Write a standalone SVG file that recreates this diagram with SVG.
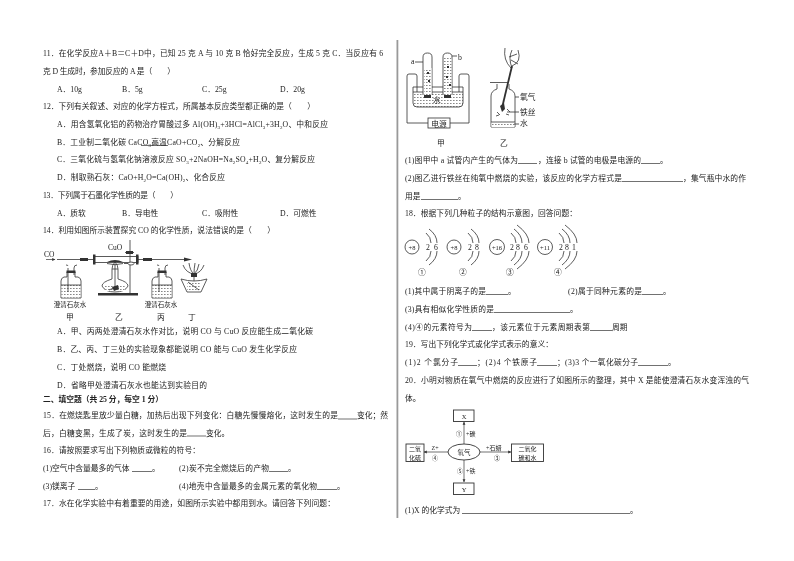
<svg xmlns="http://www.w3.org/2000/svg" xmlns:xlink="http://www.w3.org/1999/xlink" width="794" height="561" viewBox="0 0 794 561">
<style>
text{font-family:"Liberation Serif","Noto Sans CJK SC",serif;font-size:7.75px;fill:#222}
.b{font-weight:700}
.s{font-size:5px}
.m{font-size:6.5px}
.e{font-size:6px}
.c{text-anchor:middle}
.u,.l{stroke:#333;stroke-width:.7;fill:none}
.w{fill:#fff;stroke:#333;stroke-width:.8}
.k{fill:none;stroke:#333;stroke-width:.8}
.d{fill:#333}
.q{fill:url(#liq)}
.box{fill:#fff;stroke:#333;stroke-width:.9}
</style>
<defs>
<filter id="soft" x="0" y="0" width="1" height="1"><feGaussianBlur stdDeviation="0.28"/></filter>
<pattern id="liq" width="3" height="3" patternUnits="userSpaceOnUse"><rect width="3" height="3" fill="#fff"/><path d="M0 1.500H1.600" stroke="#555" stroke-width=".7"/></pattern>
<marker id="ah" markerWidth="5" markerHeight="5" refX="4" refY="2.500" orient="auto"><path d="M0 .5L4.500 2.500L0 4.500z" fill="#333"/></marker>
<path id="s1" class="k" d="M14-14Q19-10 19-4M19 4Q19 10 14 14"/>
<path id="s2" class="k" d="M17-18Q25-12 25-4M25 4Q25 12 17 18"/>
<path id="s3" class="k" d="M20-22Q32-13 32-4M32 4Q32 13 20 22"/>
<g id="bottle"><path class="w" d="M6 0V5H3Q0 6 0 9V26H20V9Q20 6 17 5H14V0z"/><rect class="q" x=".5" y="13" width="19" height="12.500"/><path class="k" d="M0 13H20M7-4V20M13-4V3M7-6Q7-7 5-7M13-4Q13-7 16-7"/><rect class="d" x="5.500" y="-1.500" width="9" height="2.500"/></g>
</defs>
<rect width="794" height="561" fill="#fff"/>
<g id="page" filter="url(#soft)">
<rect id="divider" x="396.500" y="40" width="1.800" height="478" fill="#999"/>

<g id="question-11-13">
<text x="43" y="55.500" textLength="340">11．在化学反应A＋B＝C＋D中，已知 25 克 A 与 10 克 B 恰好完全反应，生成 5 克 C．当反应有 6</text>
<text x="43" y="73.500" textLength="132">克 D 生成时，参加反应的 A 是（　　）</text>
<text x="57" y="91.500">A．10g</text><text x="122" y="91.500">B．5g</text><text x="202" y="91.500">C．25g</text><text x="280" y="91.500">D．20g</text>
<text x="43" y="109" textLength="272">12．下列有关叙述、对应的化学方程式，所属基本反应类型都正确的是（　　）</text>
<text x="57" y="127" textLength="271">A．用含氢氧化铝的药物治疗胃酸过多 Al(OH)<tspan class="s" dy="1.500">3</tspan><tspan dy="-1.500">+3HCl=AlCl</tspan><tspan class="s" dy="1.500">3</tspan><tspan dy="-1.500">+3H</tspan><tspan class="s" dy="1.500">2</tspan><tspan dy="-1.500">O、中和反应</tspan></text>
<text x="57" y="145" textLength="183">B．工业制二氧化碳 CaCO<tspan class="s" dy="1.500">3</tspan><tspan dy="-1.500">高温CaO+CO</tspan><tspan class="s" dy="1.500">2</tspan><tspan dy="-1.500">、分解反应</tspan></text>
<path class="u" d="M141 145.500H168"/>
<text x="57" y="162" textLength="258">C．三氧化硫与氢氧化钠溶液反应 SO<tspan class="s" dy="1.500">3</tspan><tspan dy="-1.500">+2NaOH=Na</tspan><tspan class="s" dy="1.500">2</tspan><tspan dy="-1.500">SO</tspan><tspan class="s" dy="1.500">4</tspan><tspan dy="-1.500">+H</tspan><tspan class="s" dy="1.500">2</tspan><tspan dy="-1.500">O、复分解反应</tspan></text>
<text x="57" y="180" textLength="168">D．制取熟石灰：CaO+H<tspan class="s" dy="1.500">2</tspan><tspan dy="-1.500">O=Ca(OH)</tspan><tspan class="s" dy="1.500">2</tspan><tspan dy="-1.500">、化合反应</tspan></text>
<text x="43" y="198" textLength="135">13．下列属于石墨化学性质的是（　　）</text>
<text x="57" y="215.500">A．质软</text><text x="122" y="215.500">B．导电性</text><text x="202" y="215.500">C．吸附性</text><text x="280" y="215.500">D．可燃性</text>
</g>

<g id="question-14">
<text x="43" y="233" textLength="232">14．利用如图所示装置探究 CO 的化学性质，说法错误的是（　　）</text>
<text x="44" y="257" style="font-size:7.500px">CO</text>
<text x="108" y="250" style="font-size:7.500px">CuO</text>
<path class="l" marker-end="url(#ah)" d="M46 259.500H55"/>
<path class="k" d="M57 259.500H93M138 259.500H186"/>
<path class="d" d="M80 258h8v3h-8zM143 258h9v3h-9zM192 259.500l-8-2v4z"/>
<use xlink:href="#bottle" x="61" y="272"/>
<use xlink:href="#bottle" x="152" y="272"/>
<rect class="w" x="94" y="256.500" width="44" height="6"/>
<path class="d" d="M93 254.500h2.500v10h-2.500zM136 254.500h2.500v10h-2.500zM107 262q8-4 16 0z"/>
<path class="k" d="M107 263.500Q115 266 123 263.500"/>
<path class="k" d="M130 240V293M125 252.500h9M124 263.500h10"/>
<path class="d" d="M126 251h7v3h-7z"/>
<ellipse class="w" cx="131" cy="263.500" rx="3" ry="1.500"/>
<rect class="d" x="98" y="293" width="40" height="2.500"/>
<path class="w" d="M112 269h6v10q10 3 10 7q-3 6-13 6q-10 0-13-6q0-4 10-7z"/>
<rect class="q" x="105" y="285" width="20" height="6"/>
<path class="k" d="M115 264V286M115 262q-3 3-3 7M115 262q3 3 3 7M109 290l9-4"/>
<path class="d" d="M112 287l6-2 1 4-5 2z"/>
<path class="w" d="M181 279Q194 283 207 279L201 292H187z"/>
<rect class="q" x="187" y="283" width="14" height="8"/>
<path class="k" d="M194 274V281M194 274q-8-1-11-9M194 274q-4-3-5-11M194 274q0-5 1-11M194 274q4-3 5-10M194 274q7-1 10-9M188 282l11 8"/>
<path class="d" d="M191 273h6v4h-6z"/>
<text class="m c" x="70" y="307">澄清石灰水</text>
<text class="m c" x="161" y="307">澄清石灰水</text>
<text class="c" x="70" y="320">甲</text><text class="c" x="119" y="320">乙</text><text class="c" x="161" y="320">丙</text><text class="c" x="192" y="320">丁</text>
<text x="57" y="334" textLength="256">A．甲、丙两处澄清石灰水作对比，说明 CO 与 CuO 反应能生成二氧化碳</text>
<text x="57" y="352" textLength="240">B．乙、丙、丁三处的实验现象都能说明 CO 能与 CuO 发生化学反应</text>
<text x="57" y="370" textLength="109">C．丁处燃烧，说明 CO 能燃烧</text>
<text x="57" y="388" textLength="150">D．省略甲处澄清石灰水也能达到实验目的</text>
</g>

<g id="section-fill">
<text class="b" x="43" y="402" textLength="120">二、填空题（共 25 分，每空 1 分）</text>
<text x="43" y="418" textLength="295">15．在燃烧匙里放少量白糖，加热后出现下列变化：白糖先慢慢熔化，这时发生的是</text>
<path class="u" d="M338 419H357M187 436H206M132 471.500H152M269 471.500H288M78 489.500H95M317 489.500H337"/>
<text x="357" y="418" textLength="31">变化；然</text>
<text x="43" y="435.500" textLength="144">后，白糖变黑，生成了炭，这时发生的是</text><text x="206" y="435.500">变化。</text>
<text x="43" y="453" textLength="157">16．请按照要求写出下列物质或微粒的符号：</text>
<text x="43" y="471">(1)空气中含量最多的气体</text><text x="152" y="471">。</text>
<text x="179" y="471" textLength="90">(2)炭不完全燃烧后的产物</text><text x="288" y="471">。</text>
<text x="43" y="489">(3)镁离子</text><text x="95" y="489">。</text>
<text x="179" y="489" textLength="138">(4)地壳中含量最多的金属元素的氧化物</text><text x="337" y="489">。</text>
<text x="43" y="506" textLength="292">17．水在化学实验中有着重要的用途，如图所示实验中都用到水。请回答下列问题：</text>
</g>

<g id="apparatus-17">
<path class="k" d="M428 123H407V76Q407 74 409 74H415Q417 74 417 76V96M450 123H469V76Q469 74 467 74H461Q459 74 459 76V96"/>
<path class="q" d="M413 92H463V103Q463 107 459 107H417Q413 107 413 103z"/>
<path class="k" d="M413 87H463V103Q463 107 459 107H417Q413 107 413 103zM413 92H463"/>
<path class="w" d="M423 95V57Q423 53 427.500 53Q432 53 432 57V95M443 95V57Q443 53 447.500 53Q452 53 452 57V95"/>
<rect class="q" x="424" y="68" width="7.500" height="27"/><rect class="q" x="444" y="58" width="7.500" height="37"/>
<path class="k" d="M415 62H423M452 56H457"/>
<rect class="d" x="424" y="95" width="7" height="3"/><rect class="d" x="444" y="95" width="7" height="3"/>
<path class="d" d="M427 72h2v2h-2zM428 80h2v2h-2zM447 66h2v2h-2zM446 76h2v2h-2zM449 84h2v2h-2z"/>
<text x="411" y="64">a</text><text x="458" y="60">b</text><text class="c" x="437" y="103">水</text>
<rect class="w" x="428" y="118" width="22" height="10"/><text class="c" x="439" y="126.500">电源</text>
<text class="c" x="441" y="146">甲</text><text class="c" x="504" y="146">乙</text>
<path class="k" d="M490 82.500H508"/>
<path class="k" d="M497 84V89Q491 91 491 96V127H515V96Q515 91 509 89V84"/>
<rect class="q" x="491.500" y="122" width="23" height="5"/>
<path class="k" d="M491 122H515"/>
<path d="M502 108L512 66" stroke="#333" stroke-width="1.800" fill="none"/>
<path class="k" d="M511 68Q503 60 505 48M512 68Q508 58 512 50M512 66Q522 62 518 50M511 60l7 4M509 57l8-3"/>
<path class="d" d="M500 106l4-3 1 6-3 3z"/>
<path class="k" d="M497 112l3 3M496 116l3-1M507 109l3 3M506 114l3 1M515 97H519M507 112H519M514 124H519"/>
<text x="520" y="100">氧气</text><text x="520" y="115">铁丝</text><text x="520" y="126">水</text>
</g>

<g id="question-17-text">
<text x="405" y="163" textLength="113">(1)图甲中 a 试管内产生的气体为</text><path class="u" d="M518 163.500H537M641 163.500H660M622 181.500H683M421 199.500H458M486 294.500H508M642 294.500H663M494 312.500H570M472 330.500H492M590 330.500H612M458 365.500H477M537 365.500H557M638 365.500H668M462 513.500H630"/>
<text x="538" y="163" textLength="103">，连接 b 试管的电极是电源的</text><text x="660" y="163">。</text>
<text x="405" y="181" textLength="217">(2)图乙进行铁丝在纯氧中燃烧的实验，该反应的化学方程式是</text>
<text x="683" y="181" textLength="63">，集气瓶中水的作</text>
<text x="405" y="199">用是</text><text x="458" y="199">。</text>
<text x="405" y="216" textLength="172">18．根据下列几种粒子的结构示意图，回答问题：</text>
</g>

<g id="atom-1" transform="translate(412 247)"><circle class="k" r="7"/><text class="m c" y="2.500">+8</text><use xlink:href="#s1"/><use xlink:href="#s2"/><text x="14" y="3">2</text><text x="22" y="3">6</text></g>
<g id="atom-2" transform="translate(454 247)"><circle class="k" r="7"/><text class="m c" y="2.500">+8</text><use xlink:href="#s1"/><use xlink:href="#s2"/><text x="14" y="3">2</text><text x="21" y="3">8</text></g>
<g id="atom-3" transform="translate(497 247)"><circle class="k" r="7.500"/><text class="m c" y="2.500">+16</text><use xlink:href="#s1"/><use xlink:href="#s2"/><use xlink:href="#s3"/><text x="13" y="3">2</text><text x="19" y="3">8</text><text x="27" y="3">6</text></g>
<g id="atom-4" transform="translate(545 247)"><circle class="k" r="7.500"/><text class="m c" y="2.500">+11</text><use xlink:href="#s1"/><use xlink:href="#s2"/><use xlink:href="#s3"/><text x="14" y="3">2</text><text x="20" y="3">8</text><text x="27" y="3">1</text></g>
<g id="atom-labels"><text class="c" x="422" y="275">①</text><text class="c" x="463" y="275">②</text><text class="c" x="510" y="275">③</text><text class="c" x="558" y="275">④</text></g>

<g id="question-18-20">
<text x="405" y="294" textLength="81">(1)其中属于阴离子的是</text><text x="508" y="294">。</text>
<text x="568" y="294" textLength="74">(2)属于同种元素的是</text><text x="663" y="294">。</text>
<text x="405" y="312" textLength="89">(3)具有相似化学性质的是</text><text x="570" y="312">。</text>
<text x="405" y="330" textLength="67">(4)④的元素符号为</text>
<text x="492" y="330" textLength="98">，该元素位于元素周期表第</text><text x="612" y="330">周期</text>
<text x="405" y="347" textLength="148">19．写出下列化学式或化学式表示的意义：</text>
<text x="405" y="365" textLength="53">(1)2 个氯分子</text>
<text x="477" y="365" textLength="60">；(2)4 个铁原子</text>
<text x="557" y="365" textLength="81">；(3)3 个一氧化碳分子</text><text x="668" y="365">。</text>
<text x="405" y="383" textLength="344">20．小明对物质在氧气中燃烧的反应进行了如图所示的整理，其中 X 是能使澄清石灰水变浑浊的气</text>
<text x="405" y="401">体。</text>
<text x="405" y="513">(1)X 的化学式为</text><text x="630" y="513">。</text>
</g>

<g id="connectors">
<path class="l" marker-end="url(#ah)" d="M464 444V422"/>
<path class="l" marker-end="url(#ah)" d="M464 460V482"/>
<path class="l" marker-end="url(#ah)" d="M448 452H424"/>
<path class="l" marker-end="url(#ah)" d="M480 452H511"/>
</g>
<g id="node-oxygen"><ellipse class="box" cx="464" cy="452" rx="16" ry="8"/><text class="c m" x="464" y="454.500">氧气</text></g>
<g id="node-x"><rect class="box" x="453.500" y="410" width="20.500" height="11.500"/><text class="c m" x="464" y="418.500">X</text></g>
<g id="node-y"><rect class="box" x="453.500" y="483" width="20.500" height="11.500"/><text class="c m" x="464" y="491.500">Y</text></g>
<g id="node-so2"><rect class="box" x="406" y="444" width="18" height="17.500"/><text class="c e" x="415" y="451">二氧</text><text class="c e" x="415" y="459.500">化硫</text></g>
<g id="node-caco3"><rect class="box" x="511.500" y="444" width="32" height="17.500"/><text class="c e" x="527.500" y="451">二氧化</text><text class="c e" x="527.500" y="459.500">碳和水</text></g>
<g id="edge-labels">
<text class="e c" x="459" y="435.500">①</text><text class="e" x="466" y="435.500">+碳</text>
<text class="e c" x="460" y="472.500">⑤</text><text class="e" x="466" y="472.500">+铁</text>
<text class="e c" x="435" y="450">Z+</text><text class="e c" x="435" y="459.500">④</text>
<text class="e" x="486" y="450">+石蜡</text><text class="e c" x="497" y="459.500">③</text>
</g>
</g>
</svg>
